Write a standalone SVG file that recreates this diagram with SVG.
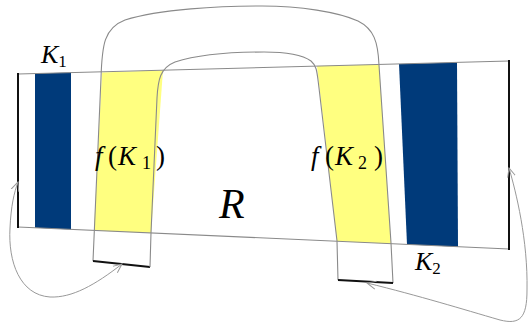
<svg xmlns="http://www.w3.org/2000/svg" width="528" height="326" viewBox="0 0 528 326">
<style>
.thin{fill:none;stroke:#8a8a8a;stroke-width:1.1}
.edge{fill:none;stroke:#111;stroke-width:2}
.blue{fill:#003a7a}
.yel{fill:#ffff80}
.arr{fill:none;stroke:#999;stroke-width:1}
text{font-family:'Liberation Serif','DejaVu Serif',serif;fill:#000}
.i{font-style:italic}
</style>
<defs>
<marker id="ah" viewBox="0 0 10 10" refX="9" refY="5" markerWidth="10" markerHeight="10" markerUnits="userSpaceOnUse" orient="auto-start-reverse">
<path d="M0,1 L9,5 L0,9" fill="none" stroke="#999" stroke-width="1"/>
</marker>
</defs>
<g id="R">
<polygon class="yel" points="102,72.4 163,70.2 151,233 94,230.4"/>
<polygon class="yel" points="317,66.1 379,64.4 391,243.7 337,241.3"/>
<polygon class="blue" points="35,73.5 71,72.6 71,229.4 35,227.8"/>
<polygon class="blue" points="399,63.9 457,62.4 458,246.7 407,244.4"/>
<line class="thin" x1="18" y1="74" x2="509" y2="61"/>
<line class="thin" x1="18" y1="227" x2="509" y2="249"/>
<line class="edge" x1="18" y1="73" x2="18" y2="228"/>
<line class="edge" x1="509" y1="60" x2="509" y2="250"/>
<text class="i" x="219" y="218" font-size="42" font-family="Liberation Serif, serif">R</text>
</g>
<g id="K1">
<text x="41" y="63" font-size="26" font-family="Liberation Serif, serif"><tspan class="i">K</tspan><tspan font-size="17" dy="4">1</tspan></text>
</g>
<g id="K2">
<text x="415" y="270" font-size="26" font-family="Liberation Serif, serif"><tspan class="i">K</tspan><tspan font-size="17" dy="4">2</tspan></text>
</g>
<g id="fK1">
<path class="thin" d="M93,261 L101,78 C102,45 104,28 125,20 C160,9 220,6 262,6 C300,6 338,12 358,21 C374,29 378,42 379,65 L391,243 L393,283"/>
<line class="edge" x1="93" y1="261" x2="150" y2="267"/>
<text y="165" font-size="27" font-family="Liberation Serif, serif"><tspan class="i" x="95">f</tspan><tspan x="108">(</tspan><tspan class="i" x="118">K</tspan><tspan x="142" dy="4" font-size="18">1</tspan><tspan x="156" dy="-4">)</tspan></text>
</g>
<g id="fK2">
<path class="thin" d="M150,267 L151,233 L157,98 C158,80 160,68 175,62 C200,54 240,52 264,52 C290,52 304,56 311,61 C317,66 317,72 319,88 L337,241 L338,280"/>
<line class="edge" x1="338" y1="280" x2="393" y2="283"/>
<text y="165" font-size="27" font-family="Liberation Serif, serif"><tspan class="i" x="311">f</tspan><tspan x="325">(</tspan><tspan class="i" x="335">K</tspan><tspan x="358" dy="4" font-size="18">2</tspan><tspan x="374" dy="-4">)</tspan></text>
</g>
<g id="connectors">
<path class="arr" marker-start="url(#ah)" marker-end="url(#ah)" d="M122,264 C95,285 72,298 50,297 C20,295 8,262 10,228 C11,206 14,193 18,182"/>
<path class="arr" marker-start="url(#ah)" marker-end="url(#ah)" d="M509,168 C516,192 528,240 527,290 C527,318 520,325 500,320 C462,309 420,296 367,283"/>
</g>
</svg>
